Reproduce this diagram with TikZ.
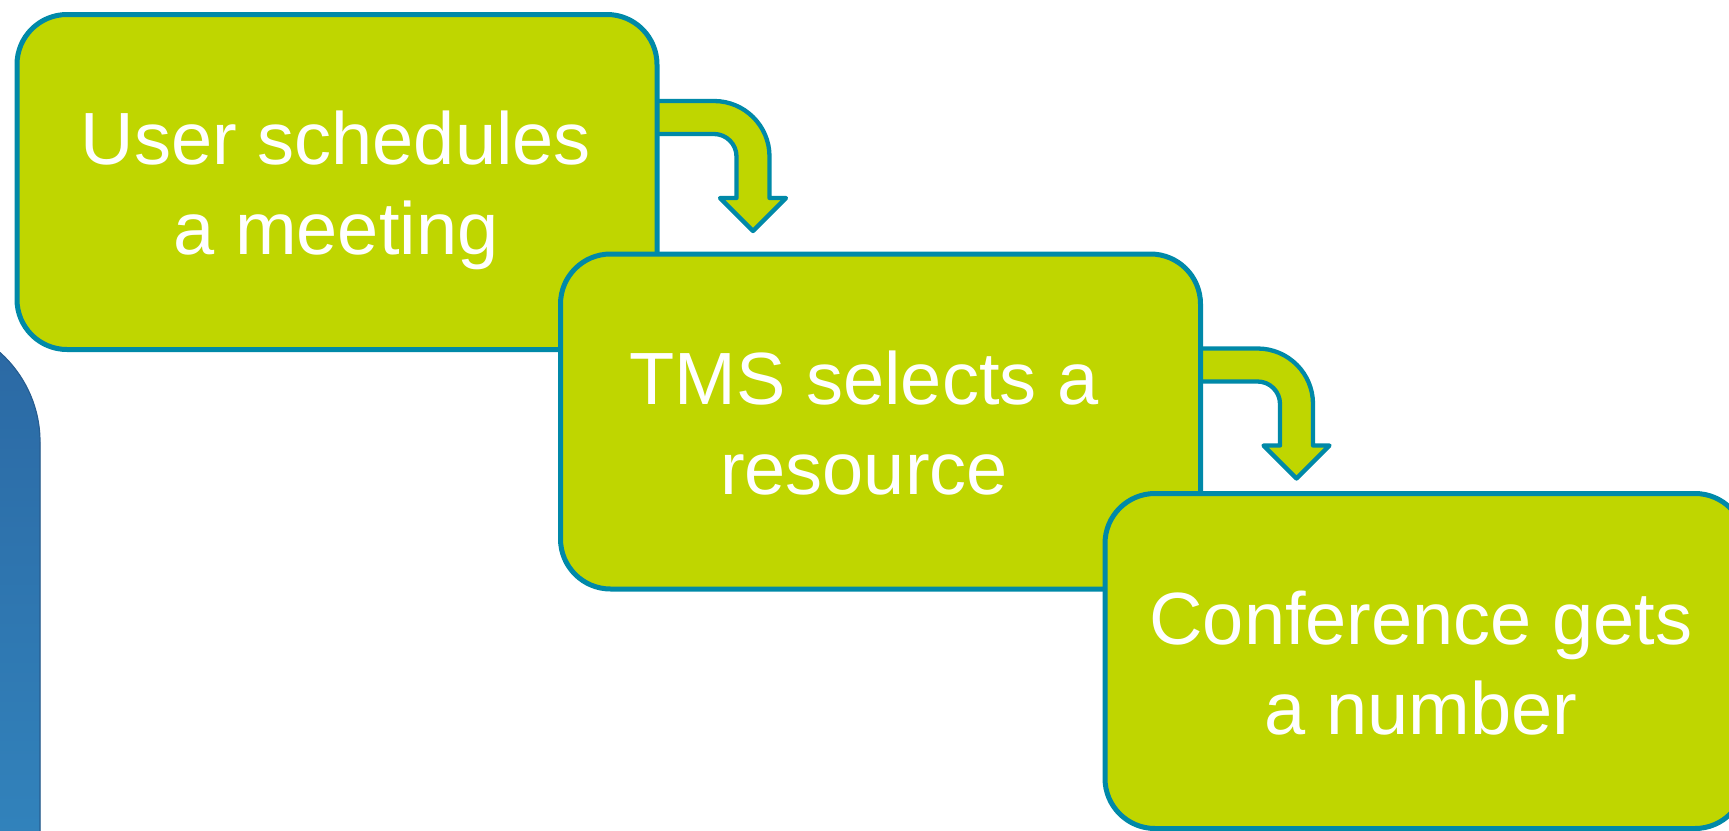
\documentclass[tikz,border=0pt]{standalone}
\usepackage{fontspec}
\setmainfont{Liberation Sans}
\definecolor{boxgreen}{HTML}{BFD600}
\definecolor{boxedge}{HTML}{0089A8}
\definecolor{panelTop}{HTML}{2B68A3}
\definecolor{panelBot}{HTML}{3590C8}
\definecolor{panelEdge}{HTML}{275E92}
\tikzset{
  stepbox/.style={draw=boxedge, fill=boxgreen, line width=5pt, rounded corners=50pt,
    minimum width=640pt, minimum height=335pt, inner sep=0pt, outer sep=0pt, anchor=north east},
  steptext/.style={text=white, align=center, font=\fontsize{74}{90}\selectfont,
    anchor=base, inner sep=0pt},
  bentarrow/.style={draw=boxedge, fill=boxgreen, line width=4.3pt, line join=round}
}
\newcommand\bentarrowpath{%
  (-8,86.5) -- (57,86.5) arc[start angle=-90, end angle=0, radius=55.5]
  -- (112.5,183.5) -- (129,183.5) -- (96,216.5) -- (63,183.5) -- (79.5,183.5)
  -- (79.5,142) arc[start angle=0, end angle=-90, radius=22.5] -- (-8,119.5) -- cycle}
\begin{document}
\begin{tikzpicture}[x=1pt,y=-1pt]
  \useasboundingbox (0,0) rectangle (1729,830);
  \clip (0,0) rectangle (1729,830);
  % blue panel at left
  \fill[top color=panelTop, bottom color=panelBot, rounded corners=120pt]
    (-400,322) -- (40,322) -- (40,1100) -- (-400,1100) -- cycle;
  \draw[panelEdge, line width=1.2pt, rounded corners=120pt]
    (-400,322) -- (40,322) -- (40,1100);
  % anchor points of the boxes (north east corners)
  \coordinate (c1) at (657,14.5);
  \coordinate (c2) at (1200.5,254);
  \coordinate (c3) at (1745,493.5);
  % bent arrows (behind boxes)
  \begin{scope}[shift={(c1)}]
    \path[bentarrow] \bentarrowpath;
  \end{scope}
  \begin{scope}[shift={(c2)}, yshift=-8pt]
    \path[bentarrow] \bentarrowpath;
  \end{scope}
  % boxes
  \node[stepbox] (b1) at (c1) {};
  \node[stepbox] (b2) at (c2) {};
  \node[stepbox] (b3) at (c3) {};
  % texts
  \node[steptext] (t1) at (336,254.5) {User schedules\\a meeting};
  \node[steptext] (t2) at (864,494) {TMS selects a\\resource};
  \node[steptext] (t3) at (1421,734) {Conference gets\\a number};
\end{tikzpicture}
\end{document}
